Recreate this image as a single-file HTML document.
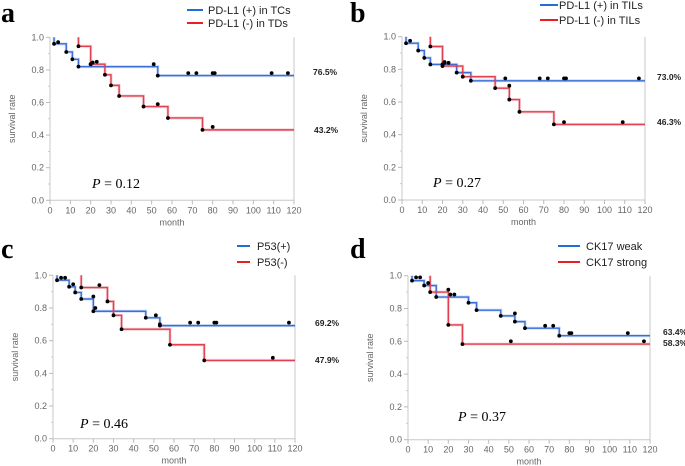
<!DOCTYPE html>
<html><head><meta charset="utf-8"><style>
body{margin:0;background:#fff;}
svg{display:block;font-family:"Liberation Sans",sans-serif;}
</style></head><body>
<svg id="fig" width="685" height="466" viewBox="0 0 685 466"></svg>
<script>
// Panel a
const aBlueT=[2,8,11,14,53], aBlueS=[0.96,0.91,0.865,0.82,0.765];
const aBlueCT=[4,20,51,68,72,80,81,109,117], aBlueCS=[0.97,0.835,0.835,0.78,0.78,0.78,0.78,0.78,0.78];
const aRedT=[14,20,27,30,34,46,58,75], aRedS=[0.945,0.835,0.77,0.705,0.64,0.575,0.505,0.432];
const aRedCT=[21,23,53,80], aRedCS=[0.845,0.85,0.59,0.45];
// Panel b
const bBlueT=[2,8,11,14,27,34], bBlueS=[0.96,0.915,0.87,0.83,0.78,0.73];
const bBlueCT=[4,20,21,51,68,72,80,81,117], bBlueCS=[0.975,0.83,0.84,0.745,0.745,0.745,0.745,0.745,0.745];
const bRedT=[14,20,30,46,53,58,75], bRedS=[0.94,0.82,0.755,0.685,0.615,0.54,0.463];
const bRedCT=[21,23,53,80,109], bRedCS=[0.845,0.84,0.70,0.477,0.477];
// Panel c
const cBlueT=[2,8,11,14,20,46,53], cBlueS=[0.97,0.93,0.895,0.855,0.78,0.74,0.692];
const cBlueCT=[4,6,10,20,21,51,53,68,72,80,81,117], cBlueCS=[0.985,0.985,0.945,0.87,0.8,0.755,0.70,0.71,0.71,0.71,0.71,0.71];
const cRedT=[14,27,30,34,58,75], cRedS=[0.925,0.84,0.755,0.67,0.575,0.479];
const cRedCT=[23,109], cRedCS=[0.94,0.495];
// Panel d
const dBlueT=[2,8,14,30,34,46,53,58,75], dBlueS=[0.97,0.94,0.87,0.835,0.79,0.755,0.72,0.68,0.634];
const dBlueCT=[4,6,10,21,23,53,68,72,80,81,109], dBlueCS=[0.99,0.99,0.955,0.885,0.885,0.77,0.695,0.695,0.65,0.65,0.65];
const dRedT=[11,20,27], dRedS=[0.90,0.70,0.583];
const dRedCT=[20,51,117], dRedCS=[0.915,0.6,0.6];
const xTicks=[0,10,20,30,40,50,60,70,80,90,100,110,120];
const yTicks=[0,0.2,0.4,0.6,0.8,1.0];

const NS="http://www.w3.org/2000/svg";
const svg=document.getElementById('fig');
function mk(tag,attrs,parent,text){const e=document.createElementNS(NS,tag);for(const k in attrs)e.setAttribute(k,attrs[k]);if(text!==undefined)e.textContent=text;(parent||svg).appendChild(e);return e;}

const panels=[
 {id:'a',x0:50,x1:294,y1:37.3,y0:200.3,letter:[1,22],leg:[187,203,10,23,208],legText:['PD-L1 (+) in TCs','PD-L1 (-) in TDs'],
  pct:[[313,72,'76.5%'],[314,130,'43.2%']],p:[92,188,'0.12'],bt:aBlueT,bs:aBlueS,bct:aBlueCT,bcs:aBlueCS,rt:aRedT,rs:aRedS,rct:aRedCT,rcs:aRedCS},
 {id:'b',x0:402,x1:645,y1:36.7,y0:200,letter:[350,22],leg:[540,558,5,20,559],legText:['PD-L1 (+) in TILs','PD-L1 (-) in TILs'],
  pct:[[657,77,'73.0%'],[657,122,'46.3%']],p:[433,187,'0.27'],bt:bBlueT,bs:bBlueS,bct:bBlueCT,bcs:bBlueCS,rt:bRedT,rs:bRedS,rct:bRedCT,rcs:bRedCS},
 {id:'c',x0:53,x1:295,y1:275.3,y0:438.7,letter:[1,258],leg:[237,250,246,262,257],legText:['P53(+)','P53(-)'],
  pct:[[315,323,'69.2%'],[315,360,'47.9%']],p:[80,428,'0.46'],bt:cBlueT,bs:cBlueS,bct:cBlueCT,bcs:cBlueCS,rt:cRedT,rs:cRedS,rct:cRedCT,rcs:cRedCS},
 {id:'d',x0:408,x1:650,y1:275.7,y0:439.7,letter:[350,258],leg:[558,580,246,262,586],legText:['CK17 weak','CK17 strong'],
  pct:[[663,332,'63.4%'],[663,343,'58.3%']],p:[458,421,'0.37'],bt:dBlueT,bs:dBlueS,bct:dBlueCT,bcs:dBlueCS,rt:dRedT,rs:dRedS,rct:dRedCT,rcs:dRedCS}
];

panels.forEach(P=>{
 const g=mk('g',{});
 
 
 const X=t=>P.x0+(P.x1-P.x0)*t/120;
 const Y=s=>P.y0-(P.y0-P.y1)*s;
 const L=mk('text',{x:P.letter[0],y:P.letter[1],'font-family':'Liberation Serif, serif','font-weight':'bold','font-size':28,fill:'#000'},g,P.id);
  
 const ax=mk('path',{d:`M${P.x0},${P.y1}V${P.y0}H${P.x1}V${P.y1}`,fill:'none',stroke:'#c8c8c8','stroke-width':1},g);
  
 yTicks.forEach(v=>{
  mk('line',{x1:P.x0-4,x2:P.x0,y1:Y(v),y2:Y(v),stroke:'#bbb'},g);
  const t=mk('text',{x:P.x0-6,y:Y(v)+3,'text-anchor':'end','font-size':9,fill:'#666'},g,v.toFixed(1));
   
 });
 for(let v=0.1;v<1;v+=0.2) mk('line',{x1:P.x0-2,x2:P.x0,y1:Y(v),y2:Y(v),stroke:'#ccc'},g);
 xTicks.forEach(v=>{
  mk('line',{x1:X(v),x2:X(v),y1:P.y0,y2:P.y0+4,stroke:'#bbb'},g);
  const t=mk('text',{x:X(v),y:P.y0+13,'text-anchor':'middle','font-size':9,fill:'#666'},g,String(v));
   
 });
 const xt=mk('text',{x:(P.x0+P.x1)/2,y:P.y0+25,'text-anchor':'middle','font-size':9,fill:'#666'},g,'month');
  
 const yc=(P.y0+P.y1)/2;
 const yt=mk('text',{x:P.x0-35,y:yc,'text-anchor':'middle','font-size':9,fill:'#666',transform:`rotate(-90 ${P.x0-35} ${yc})`},g,'survival rate');
  
 function curve(T,S,color,name){
  let d=`M${X(T[0])},${Y(1)}`;
  T.forEach((t,i)=>{d+=`H${X(t)}V${Y(S[i])}`;});
  d+=`H${X(120)}`;
  mk('path',{d,fill:'none',stroke:color,'stroke-opacity':0.25,'stroke-width':3},g);
  const p=mk('path',{d,fill:'none',stroke:color,'stroke-width':1.4},g);
   
  T.forEach((t,i)=>{const c=mk('circle',{cx:X(t),cy:Y(S[i]),r:1.9,fill:'#000'},g);
    });
 }
 function cens(T,S){T.forEach((t,i)=>{const c=mk('circle',{cx:X(t),cy:Y(S[i]),r:1.9,fill:'#000'},g);
    });}
 curve(P.bt,P.bs,'#3b6fd6','curve-blue');
 curve(P.rt,P.rs,'#e0404f','curve-red');
 cens(P.bct,P.bcs); cens(P.rct,P.rcs);
 [['#1f6fd8',P.leg[2],P.legText[0]],['#e82020',P.leg[3],P.legText[1]]].forEach(e=>{
  const lg=mk('g',{},g);
   
  mk('line',{x1:P.leg[0],x2:P.leg[1],y1:e[1],y2:e[1],stroke:e[0],'stroke-width':2},lg);
  mk('text',{x:P.leg[4],y:e[1]+4,'font-size':11,fill:'#222'},lg,e[2]);
 });
 P.pct.forEach(q=>{const t=mk('text',{x:q[0],y:q[1]+3,'font-size':8.5,'font-weight':'bold',fill:'#222'},g,q[2]);
   });
 const pt=mk('text',{x:P.p[0],y:P.p[1],'font-family':'Liberation Serif, serif','font-size':14,fill:'#000'},g);
  
 mk('tspan',{'font-style':'italic'},pt,'P');
 mk('tspan',{},pt,' = '+P.p[2]);
});
</script>
</body></html>
